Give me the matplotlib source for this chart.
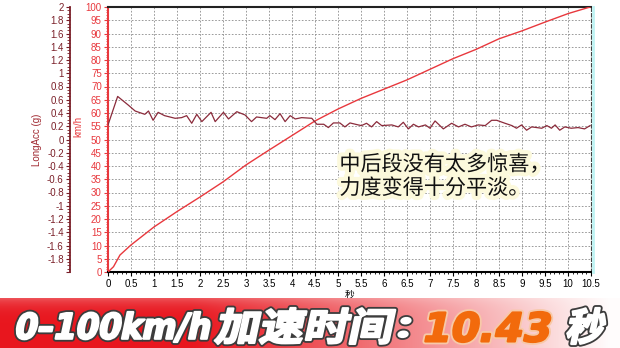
import numpy as np
import matplotlib
matplotlib.use("Agg")
import matplotlib.pyplot as plt
from matplotlib.ticker import MultipleLocator, FuncFormatter
from matplotlib.textpath import TextPath
from matplotlib.patches import PathPatch
from matplotlib.font_manager import FontProperties
from matplotlib.transforms import Affine2D
import matplotlib.patheffects as pe

plt.rcParams['font.family'] = ['Liberation Sans', 'Noto Sans CJK SC', 'DejaVu Sans']
plt.rcParams['axes.unicode_minus'] = False

# speed trace (km/h)
t_speed = [0, 0.12, 0.26, 0.5, 1.0, 1.5, 2.0, 2.5, 3.0, 3.5, 4.0, 4.5, 5.0, 5.5,
           6.0, 6.5, 7.0, 7.5, 8.0, 8.5, 9.0, 9.5, 10.0, 10.48]
speed = [0, 2.0, 6.4, 10.2, 17.0, 22.8, 28.3, 34.0, 40.4, 46.0, 51.5, 57.0, 61.5, 65.5,
         69.0, 72.5, 76.5, 80.5, 84.0, 88.0, 91.0, 94.3, 97.5, 100.0]

# longitudinal acceleration (g)
t_acc = [0, 0.21, 0.44, 0.59, 0.8, 0.88, 0.98, 1.09, 1.23, 1.46, 1.6, 1.71, 1.82, 1.93,
         2.04, 2.24, 2.33, 2.51, 2.62, 2.8, 2.98, 3.12, 3.23, 3.45, 3.52, 3.63, 3.74,
         3.85, 3.96, 4.07, 4.21, 4.43, 4.54, 4.69, 4.79, 4.9, 5.04, 5.15, 5.26, 5.44,
         5.51, 5.62, 5.73, 5.84, 5.95, 6.17, 6.31, 6.42, 6.53, 6.64, 6.75, 6.9, 7.0,
         7.11, 7.29, 7.47, 7.62, 7.76, 7.9, 8.05, 8.2, 8.34, 8.45, 8.63, 8.78, 8.88,
         8.99, 9.1, 9.21, 9.43, 9.54, 9.64, 9.72, 9.82, 9.93, 10.07, 10.22, 10.36, 10.48]
acc = [0.22, 0.65, 0.52, 0.43, 0.38, 0.43, 0.29, 0.41, 0.36, 0.32, 0.33, 0.36, 0.245, 0.38,
       0.27, 0.41, 0.27, 0.41, 0.31, 0.42, 0.37, 0.27, 0.34, 0.32, 0.36, 0.30, 0.39,
       0.27, 0.36, 0.31, 0.33, 0.32, 0.23, 0.23, 0.18, 0.25, 0.25, 0.19, 0.25, 0.22,
       0.21, 0.245, 0.19, 0.27, 0.21, 0.22, 0.19, 0.26, 0.16, 0.23, 0.19, 0.22, 0.17,
       0.28, 0.16, 0.245, 0.19, 0.23, 0.19, 0.22, 0.21, 0.29, 0.29, 0.245, 0.21, 0.17,
       0.22, 0.14, 0.19, 0.17, 0.21, 0.17, 0.22, 0.14, 0.19, 0.17, 0.18, 0.16, 0.21]

note = "中后段没有太多惊喜，\n力度变得十分平淡。"

red = '#e8383d'
dark = '#8b2b3b'

fig = plt.figure(figsize=(6.2, 3.48), dpi=100)
ax = fig.add_axes([108/620, 76/348, 483/620, 265/348])

ax.plot(t_speed, speed, color=red, lw=1.0, zorder=3)
ax.set_xlim(0, 10.5)
ax.set_ylim(0, 100)
ax.xaxis.set_major_locator(MultipleLocator(0.5))
ax.xaxis.set_minor_locator(MultipleLocator(0.1))
ax.yaxis.set_major_locator(MultipleLocator(5))
ax.yaxis.set_minor_locator(MultipleLocator(1))
ax.xaxis.set_major_formatter(FuncFormatter(lambda v, p: '%g' % v))
ax.grid(True, which='major', ls=(0, (2, 2)), color='#8a8a8a', lw=0.6)
ax.tick_params(axis='y', which='both', colors=red, labelsize=7, pad=1.5)
ax.tick_params(axis='y', which='major', length=3)
ax.tick_params(axis='y', which='minor', length=1.5)
ax.tick_params(axis='x', which='major', length=3, labelsize=7, pad=2)
ax.tick_params(axis='x', which='minor', length=1.5)
ax.spines['left'].set_color(red)
ax.spines['left'].set_linewidth(1.5)
ax.spines['bottom'].set_linewidth(1.5)
ax.spines['top'].set_linewidth(1.5)
ax.spines['top'].set_color('#222222')
ax.spines['right'].set_linestyle((0, (3, 2)))
ax.spines['right'].set_color('#444444')
ax.set_ylabel('km/h', color=red, fontsize=7)
ax.yaxis.set_label_coords(-0.052, 0.55)
ax.set_xlabel('秒', fontsize=7, family=['Noto Sans CJK SC'], labelpad=1)

ax2 = ax.twinx()
ax2.plot(t_acc, acc, color=dark, lw=0.9, zorder=3)
ax2.set_ylim(-2, 2)
ax2.yaxis.set_ticks_position('left')
ax2.yaxis.set_label_position('left')
ax2.spines['left'].set_position(('outward', 27.4))
ax2.spines['left'].set_color('#7a1f28')
ax2.spines['left'].set_linewidth(1.3)
for s in ['right', 'top', 'bottom']:
    ax2.spines[s].set_visible(False)
ax2.yaxis.set_major_locator(MultipleLocator(0.2))
ax2.yaxis.set_minor_locator(MultipleLocator(0.05))
ax2.yaxis.set_major_formatter(FuncFormatter(lambda v, p: '' if v < -1.9 else '%g' % round(v, 1)))
ax2.tick_params(axis='y', which='both', colors='#7a1f28', labelsize=7, pad=1.5)
ax2.tick_params(axis='y', which='major', length=3)
ax2.tick_params(axis='y', which='minor', length=2)
ax2.set_ylabel('LongAcc (g)', color='#a02830', fontsize=7)
ax2.yaxis.set_label_coords(-0.137, 0.5)

ax.text(0.479, 0.447, note, transform=ax.transAxes, fontsize=15.2,
        family=['Noto Sans CJK SC'], weight='medium', color='#111111',
        va='top', ha='left', linespacing=1.1, zorder=5,
        path_effects=[pe.withStroke(linewidth=6, foreground='#fcf9dc')])

fig.add_artist(plt.Line2D([593/620, 593/620], [76/348, 341/348], color='#bff3f3', lw=2))

# banner
bx = fig.add_axes([0, 0, 1, 50/348])
bx.set_xlim(0, 620)
bx.set_ylim(0, 50)
bx.axis('off')
xs = np.linspace(0, 620, 620)
f = np.clip((xs - 190) / 420, 0, 1) ** 1.1
c0 = np.array([232, 22, 30]) / 255
c1 = np.array([255, 252, 252]) / 255
row = c0[None, :] * (1 - f[:, None]) + c1[None, :] * f[:, None]
grad = np.repeat(row[None, :, :], 50, axis=0)
top = np.linspace(1, 0, 50) ** 6 * 0.25
grad = grad + (1 - grad) * top[:, None, None]
bx.imshow(grad, extent=[0, 620, 0, 50], aspect='auto', zorder=0)


def banner_text(s, x0, x1, y0, y1, family, color, ec='#3c3c3c'):
    fp = FontProperties(family=family, weight='bold')
    tp = TextPath((0, 0), s, size=40, prop=fp)
    bb = tp.get_extents()
    tr = (Affine2D().translate(-bb.x0, -bb.y0)
          .scale((x1 - x0) / bb.width, (y1 - y0) / bb.height)
          .skew_deg(12, 0).translate(x0, y0))
    path = tr.transform_path(tp)
    bx.add_patch(PathPatch(path, fc=ec, ec=ec, lw=4.2, joinstyle='round', zorder=2))
    bx.add_patch(PathPatch(path, fc=color, ec=color, lw=1.6, joinstyle='round', zorder=3))


banner_text('0–100km/h', 14, 206, 6, 36, 'DejaVu Sans', 'white')
banner_text('加速时间', 214, 388, 4, 40, 'Noto Sans CJK SC', 'white')
banner_text('：', 398, 407, 11, 30, 'Noto Sans CJK SC', 'white')
banner_text('10.43', 425, 546, 6, 36, 'DejaVu Sans', '#f26a0c', ec='#f7c9a8')
banner_text('秒', 565, 601, 4, 40, 'Noto Sans CJK SC', 'white')

fig.savefig('out.png', dpi=100)
